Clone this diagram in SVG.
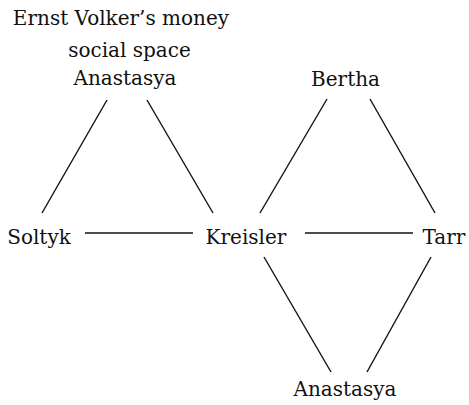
<svg xmlns="http://www.w3.org/2000/svg" width="469" height="405" viewBox="0 0 469 405">
<style>
text{font-family:"DejaVu Serif","Liberation Serif",serif;font-size:20px;fill:#111;text-anchor:middle}
.e line{stroke:#111;stroke-width:1.4}
</style>
<rect width="469" height="405" fill="#fff"/>
<g id="anastasya-top">
<text x="121" y="25">Ernst Volker’s money</text>
<text x="129.5" y="57">social space</text>
<text x="125" y="85">Anastasya</text>
</g>
<g id="bertha"><text x="345.5" y="86">Bertha</text></g>
<g id="soltyk"><text x="39" y="244">Soltyk</text></g>
<g id="kreisler"><text x="246" y="244">Kreisler</text></g>
<g id="tarr"><text x="444" y="244">Tarr</text></g>
<g id="anastasya-bottom"><text x="345" y="396">Anastasya</text></g>
<g class="e" id="connectors">
<line x1="107" y1="100" x2="42" y2="213"/>
<line x1="147" y1="100" x2="213" y2="213"/>
<line x1="327" y1="99" x2="260" y2="213"/>
<line x1="370" y1="99" x2="435" y2="213"/>
<line x1="85" y1="233" x2="193" y2="233"/>
<line x1="305" y1="233" x2="413" y2="233"/>
<line x1="264" y1="257" x2="331" y2="372"/>
<line x1="431" y1="257" x2="367" y2="372"/>
</g>
</svg>
